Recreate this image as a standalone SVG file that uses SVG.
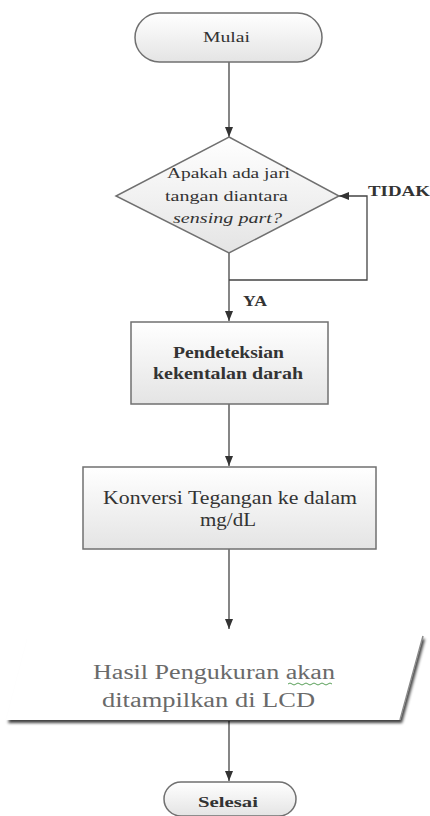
<svg xmlns="http://www.w3.org/2000/svg" width="430" height="816" viewBox="0 0 430 816">
<defs>
<linearGradient id="g" x1="0" y1="0" x2="0" y2="1">
<stop offset="0" stop-color="#ffffff"/>
<stop offset="1" stop-color="#e4e4e4"/>
</linearGradient>
<filter id="sh" x="-10%" y="-20%" width="130%" height="160%">
<feGaussianBlur in="SourceAlpha" stdDeviation="1.5"/>
<feOffset dx="2" dy="3" result="b"/>
<feComponentTransfer><feFuncA type="linear" slope="0.75"/></feComponentTransfer>
<feMerge><feMergeNode/><feMergeNode in="SourceGraphic"/></feMerge>
</filter>
<marker id="arr" markerUnits="userSpaceOnUse" markerWidth="10" markerHeight="10" viewBox="0 0 10 10" refX="10" refY="5" orient="auto">
<path d="M0,1 L10,5 L0,9 z" fill="#333"/>
</marker>
</defs>
<style>
.shape{fill:url(#g);stroke:#707070;stroke-width:1.5}
text{font-family:'Times New Roman','Liberation Serif',Tinos,'DejaVu Serif',serif;fill:#333}
.b{font-weight:bold}
.c{fill:none;stroke:#444;stroke-width:1.3}
</style>
<rect width="430" height="816" fill="#ffffff"/>
<g id="connectors">
<line class="c" x1="229" y1="62" x2="229" y2="137" marker-end="url(#arr)"/>
<line class="c" x1="229" y1="253" x2="229" y2="321" marker-end="url(#arr)"/>
<polyline class="c" points="229,280 367,280 367,196 339,196" marker-end="url(#arr)"/>
<line class="c" x1="229" y1="404" x2="229" y2="466" marker-end="url(#arr)"/>
<line class="c" x1="229" y1="549" x2="229" y2="629" marker-end="url(#arr)"/>
<line class="c" x1="229" y1="721" x2="229" y2="781" marker-end="url(#arr)"/>
<text class="b" x="368" y="196" font-size="14" textLength="62" lengthAdjust="spacingAndGlyphs">TIDAK</text>
<text class="b" x="243" y="306" font-size="14" textLength="24" lengthAdjust="spacingAndGlyphs">YA</text>
</g>
<g id="mulai">
<rect class="shape" x="135" y="13" width="187" height="49" rx="24.5"/>
<text x="203" y="42" font-size="15" textLength="47" lengthAdjust="spacingAndGlyphs">Mulai</text>
</g>
<g id="decision">
<polygon class="shape" points="229,137 339,196 229,253 116,196"/>
<text x="167" y="178" font-size="15" textLength="123" lengthAdjust="spacingAndGlyphs">Apakah ada jari</text>
<text x="165" y="201" font-size="15" textLength="123" lengthAdjust="spacingAndGlyphs">tangan diantara</text>
<text x="173" y="223" font-size="15" font-style="italic" textLength="109" lengthAdjust="spacingAndGlyphs">sensing part?</text>
</g>
<g id="deteksi">
<rect class="shape" x="131" y="322" width="197" height="82"/>
<text class="b" x="173" y="358" font-size="16" textLength="111" lengthAdjust="spacingAndGlyphs">Pendeteksian</text>
<text class="b" x="153" y="379" font-size="16" textLength="150" lengthAdjust="spacingAndGlyphs">kekentalan darah</text>
</g>
<g id="konversi">
<rect class="shape" x="83" y="467" width="293" height="82"/>
<text x="103" y="504" font-size="18" textLength="254" lengthAdjust="spacingAndGlyphs">Konversi Tegangan ke dalam</text>
<text x="200" y="526" font-size="18" textLength="56" lengthAdjust="spacingAndGlyphs">mg/dL</text>
</g>
<g id="output">
<polygon points="28,636 423,636 400,720 6,720" fill="#ffffff" filter="url(#sh)"/>
<polygon points="26,630 426,630 423,637 28,637" fill="#ffffff"/>
<line x1="423" y1="636" x2="400" y2="720" stroke="#8a8a8a" stroke-width="1.5"/>
<text x="93" y="679" font-size="20" style="fill:#6a6a6a" textLength="242" lengthAdjust="spacingAndGlyphs">Hasil Pengukuran akan</text>
<path d="M288,684 q2,-2 4,0 t4,0 t4,0 t4,0 t4,0 t4,0 t4,0 t4,0 t4,0 t4,0 t4,0" fill="none" stroke="#5aa05a" stroke-width="1"/>
<text x="102" y="707" font-size="20" style="fill:#6a6a6a" textLength="213" lengthAdjust="spacingAndGlyphs">ditampilkan di LCD</text>
</g>
<g id="selesai">
<rect class="shape" x="164" y="782" width="132" height="34" rx="17"/>
<text class="b" x="198" y="807" font-size="15" textLength="60" lengthAdjust="spacingAndGlyphs">Selesai</text>
</g>
</svg>
